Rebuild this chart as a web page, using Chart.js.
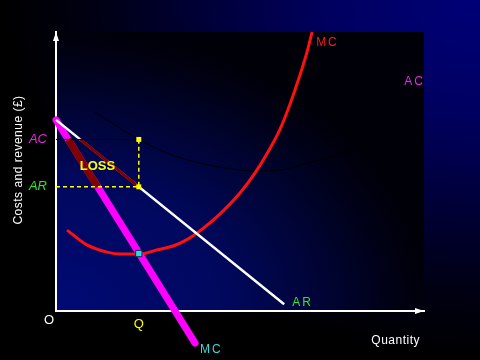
<!DOCTYPE html>
<html>
<head>
<meta charset="utf-8">
<script src="https://cdn.jsdelivr.net/npm/chart.js@4.4.1/dist/chart.umd.min.js"></script>
<style>
  html, body { margin: 0; padding: 0; background: #000; }
  canvas { display: block; }
</style>
</head>
<body>
<canvas id="chart" width="480" height="360"></canvas>
<script>
// Values. x = quantity (0-100), y = costs and revenue (0-100)
const Q = 22.5;
const AC_LEVEL = 61.5;
const AR_LEVEL = 44.5;
const MC_AT_Q = 20.6;

const xTickValues = [Q];
const xTickLabels = ['Q'];
const yTickValues = [AR_LEVEL, AC_LEVEL];
const yTickLabels = ['AR', 'AC'];

const arLine = [{x: 0, y: 68.5}, {x: 62, y: 2.4}];
const mcStraight = [{x: 0, y: 68.5}, {x: 37.8, y: -11.5}];
const mcCurve = [
  {x: 3.0, y: 29.0}, {x: 8.4, y: 23.7}, {x: 13.9, y: 21.1}, {x: 17.4, y: 20.4},
  {x: 22.8, y: 20.4}, {x: 27.4, y: 21.9}, {x: 31.8, y: 23.3}, {x: 35.6, y: 25.6},
  {x: 39.1, y: 28.7}, {x: 44.6, y: 34.8}, {x: 50.0, y: 42.3}, {x: 54.1, y: 49.5},
  {x: 57.6, y: 57.0}, {x: 60.9, y: 65.2}, {x: 63.6, y: 74.2}, {x: 66.3, y: 84.6},
  {x: 68.2, y: 92.8}, {x: 69.6, y: 100}
];
const acCurve = [
  {x: 10.6, y: 71.3}, {x: 22.5, y: 61.5}, {x: 30.2, y: 56.6}, {x: 39.1, y: 53.0},
  {x: 50.0, y: 50.5}, {x: 53.5, y: 50.2}, {x: 60.9, y: 50.5}, {x: 66.3, y: 52.3},
  {x: 74.5, y: 55.0}, {x: 79.9, y: 57.7}, {x: 90.8, y: 66.7}, {x: 99.5, y: 79.2}
];
const lossOnAR = [{x: 6.6, y: AC_LEVEL}, {x: Q, y: AR_LEVEL}];
const lossOnMC = [{x: 3.3, y: AC_LEVEL}, {x: 11.3, y: AR_LEVEL}];
const acGuide = [{x: 0, y: AC_LEVEL}, {x: Q, y: AC_LEVEL}];
const lossGuide = [{x: 0, y: AR_LEVEL}, {x: Q, y: AR_LEVEL}, {x: Q, y: AC_LEVEL}];
const lossCorners = [{x: Q, y: AC_LEVEL}, {x: Q, y: AR_LEVEL}];
const equilibrium = [{x: Q, y: MC_AT_Q}];

const FONT = '"Liberation Sans", Arial, sans-serif';

function cornerGlow(ctx, cx, cy, rx, ry, stops, x, y, w, h) {
  ctx.save();
  ctx.translate(cx, cy);
  ctx.scale(rx, ry);
  const g = ctx.createRadialGradient(0, 0, 0, 0, 0, 1);
  stops.forEach(([o, c]) => g.addColorStop(o, c));
  ctx.fillStyle = g;
  ctx.fillRect((x - cx) / rx, (y - cy) / ry, w / rx, h / ry);
  ctx.restore();
}

function text(ctx, str, x, y, color, font, align, spacing) {
  ctx.save();
  ctx.font = font;
  ctx.fillStyle = color;
  ctx.textAlign = align || 'left';
  ctx.textBaseline = 'middle';
  ctx.letterSpacing = spacing || '0px';
  ctx.fillText(str, x, y);
  ctx.restore();
}

// slide background: outer glow from top-right, plot panel glow from bottom-left
const slideBackground = {
  id: 'slideBackground',
  beforeDraw(chart) {
    const {ctx, chartArea: a, width, height} = chart;
    cornerGlow(ctx, width, 0, width, height,
      [[0, '#000078'], [0.3, '#000062'], [0.55, '#00003c'], [0.8, '#000014'], [1, '#000000']],
      0, 0, width, height);
    cornerGlow(ctx, a.left, a.bottom, a.width * 1.02, a.height * 1.02,
      [[0, '#000a74'], [0.45, '#00085e'], [0.7, '#000436'], [0.9, '#000114'], [1, '#000008']],
      a.left, a.top, a.width, a.height);
  }
};

// arrows and curve labels
const slideLabels = {
  id: 'slideLabels',
  afterDraw(chart) {
    const {ctx, chartArea: a, scales: {x, y}} = chart;
    ctx.save();
    ctx.fillStyle = '#ffffff';
    ctx.beginPath();
    ctx.moveTo(a.left, a.top);
    ctx.lineTo(a.left - 3, a.top + 9);
    ctx.lineTo(a.left + 3, a.top + 9);
    ctx.fill();
    ctx.beginPath();
    ctx.moveTo(a.right, a.bottom);
    ctx.lineTo(a.right - 9, a.bottom - 3);
    ctx.lineTo(a.right - 9, a.bottom + 3);
    ctx.fill();
    ctx.restore();

    const px = p => [x.getPixelForValue(p.x), y.getPixelForValue(p.y)];
    const small = '12px ' + FONT;

    let [ex, ey] = px(mcCurve[mcCurve.length - 1]);
    text(ctx, 'MC', ex + 4, ey + 11, '#ff1a1a', small, 'left', '2px');
    [ex, ey] = px(acCurve[acCurve.length - 1]);
    text(ctx, 'AC', ex - 18, ey - 8, '#ee22ee', small, 'left', '2px');
    [ex, ey] = px(mcStraight[mcStraight.length - 1]);
    text(ctx, 'MC', ex + 5, ey + 7, '#33dddd', small, 'left', '2px');
    [ex, ey] = px(arLine[arLine.length - 1]);
    text(ctx, 'AR', ex + 8, ey - 2, '#22ee22', small, 'left', '2px');

    const lx = (x.getPixelForValue(0) + x.getPixelForValue(Q)) / 2;
    const ly = (y.getPixelForValue(AC_LEVEL) + y.getPixelForValue(AR_LEVEL)) / 2;
    text(ctx, 'LOSS', lx, ly + 3, '#ffff00', 'bold 13px ' + FONT, 'center');

    text(ctx, 'O', a.left - 7, a.bottom + 9, '#ffffff', '13px ' + FONT, 'center');
    text(ctx, 'Quantity', a.right - 4, a.bottom + 30, '#ffffff', small, 'right', '0.5px');

    ctx.save();
    ctx.translate(19, 160);
    ctx.rotate(-Math.PI / 2);
    text(ctx, 'Costs and revenue (£)', 0, 0, '#ffffff', small, 'center', '0.5px');
    ctx.restore();
  }
};

const line = (data, color, width, order, extra) => Object.assign({
  data, showLine: true, borderColor: color, backgroundColor: color,
  borderWidth: width, pointRadius: 0, clip: false, order
}, extra || {});

new Chart(document.getElementById('chart'), {
  type: 'scatter',
  data: {
    datasets: [
      line(acCurve, '#000000', 1, 9, {tension: 0.4, cubicInterpolationMode: 'monotone'}),
      line(mcCurve, '#ff1010', 3, 8, {tension: 0.4, cubicInterpolationMode: 'monotone'}),
      line(mcStraight, '#ff00ff', 7, 7, {borderCapStyle: 'round'}),
      line(arLine, '#ffffff', 2.5, 6),
      line(lossOnMC, '#800000', 7, 5),
      line(lossOnAR, '#800000', 3, 4),
      line(acGuide, '#000000', 1, 3),
      line(lossGuide, '#ffff00', 1.5, 2, {borderDash: [4, 3]}),
      {data: lossCorners, pointStyle: 'rect', pointRadius: 3.5, backgroundColor: '#ffff00',
       borderColor: '#ffff00', borderWidth: 0, clip: false, order: 1},
      {data: equilibrium, pointStyle: 'rect', pointRadius: 4.5, backgroundColor: '#22dddd',
       borderColor: '#08303a', borderWidth: 1, clip: false, order: 0}
    ]
  },
  options: {
    responsive: false,
    animation: false,
    events: [],
    layout: {padding: {left: 0, right: 56, top: 32, bottom: 0}},
    plugins: {legend: {display: false}, tooltip: {enabled: false}},
    scales: {
      x: {
        type: 'linear', min: 0, max: 100,
        grid: {display: false, drawTicks: false},
        border: {color: '#ffffff', width: 2},
        afterBuildTicks: s => { s.ticks = xTickValues.map(v => ({value: v})); },
        afterFit: s => { s.height = 49; },
        ticks: {
          autoSkip: false, padding: 6,
          font: {family: FONT, size: 13},
          color: '#ffff00',
          callback: (v, i) => xTickLabels[i]
        }
      },
      y: {
        type: 'linear', min: 0, max: 100,
        grid: {display: false, drawTicks: false},
        border: {color: '#ffffff', width: 2},
        afterBuildTicks: s => { s.ticks = yTickValues.map(v => ({value: v})); },
        afterFit: s => { s.width = 56; },
        ticks: {
          autoSkip: false, padding: 9,
          font: {family: FONT, size: 13, style: 'italic'},
          color: c => c.index === 1 ? '#ee22ee' : '#22ee22',
          callback: (v, i) => yTickLabels[i]
        }
      }
    }
  },
  plugins: [slideBackground, slideLabels]
});
</script>
</body>
</html>
